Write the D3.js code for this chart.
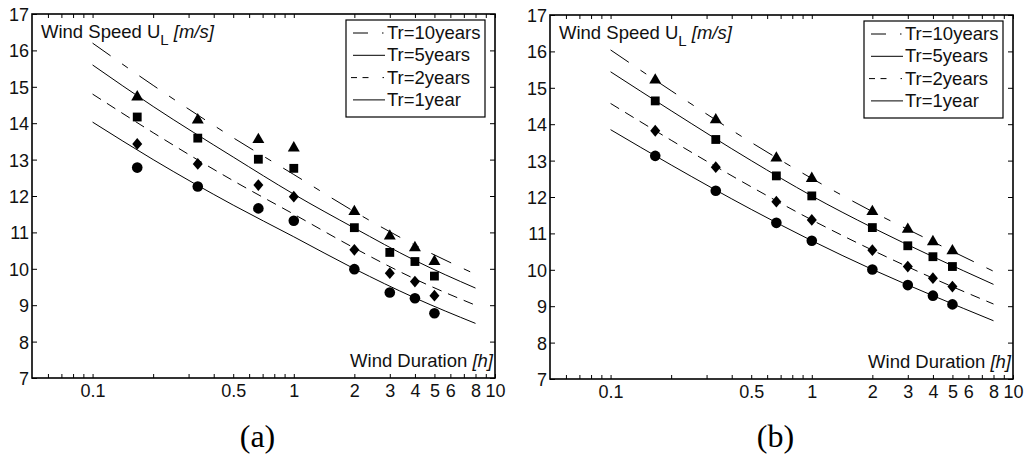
<!DOCTYPE html>
<html>
<head>
<meta charset="utf-8">
<script src="https://cdn.jsdelivr.net/npm/d3@7"></script>
<style>
  body { margin: 0; background: #fff; }
  svg { display: block; }
  text { font-family: "Liberation Sans", Arial, sans-serif; }
</style>
</head>
<body>
<div id="chart"></div>
<script>
// data
const periods = ["Tr=10years", "Tr=5years", "Tr=2years", "Tr=1year"];
const durations = [0.1667, 0.3333, 0.6667, 1, 2, 3, 4, 5];   // hours, measured points
const curveX = [0.1, 0.2, 0.5, 1, 2, 4, 8];                   // hours, fitted curves

// panel (a) measured points
const ptsA10 = [14.72, 14.09, 13.55, 13.32, 11.57, 10.9, 10.58, 10.2];
const ptsA5  = [14.17, 13.59, 13.01, 12.76, 11.13, 10.45, 10.2, 9.8];
const ptsA2  = [13.43, 12.88, 12.3, 11.98, 10.52, 9.88, 9.65, 9.26];
const ptsA1  = [12.78, 12.26, 11.66, 11.32, 9.99, 9.35, 9.19, 8.78];
// panel (a) curves
const curA10 = [16.2, 15.04, 13.6, 12.59, 11.57, 10.65, 9.85];
const curA5  = [15.6, 14.46, 13.07, 12.05, 11.12, 10.23, 9.47];
const curA2  = [14.8, 13.74, 12.42, 11.5, 10.57, 9.72, 9.0];
const curA1  = [14.03, 13.0, 11.75, 10.88, 10.0, 9.2, 8.5];

// panel (b) measured points
const ptsB10 = [15.21, 14.12, 13.07, 12.51, 11.6, 11.11, 10.77, 10.52];
const ptsB5  = [14.64, 13.58, 12.58, 12.03, 11.16, 10.66, 10.36, 10.09];
const ptsB2  = [13.82, 12.82, 11.87, 11.37, 10.54, 10.09, 9.77, 9.54];
const ptsB1  = [13.13, 12.17, 11.29, 10.8, 10.01, 9.58, 9.29, 9.05];
// panel (b) curves
const curB10 = [16.04, 14.92, 13.5, 12.51, 11.6, 10.77, 9.96];
const curB5  = [15.44, 14.37, 13.0, 12.03, 11.16, 10.36, 9.6];
const curB2  = [14.57, 13.56, 12.28, 11.37, 10.54, 9.77, 9.06];
const curB1  = [13.85, 12.88, 11.66, 10.8, 10.01, 9.29, 8.6];

const yTicks = [7, 8, 9, 10, 11, 12, 13, 14, 15, 16, 17];
const xLabels = [0.1, 0.5, 1, 2, 3, 4, 5, 6, 8, 10];
const xMinor = [0.06, 0.07, 0.08, 0.09, 0.1, 0.2, 0.3, 0.4, 0.5, 0.6, 0.7, 0.8, 0.9,
                1, 2, 3, 4, 5, 6, 7, 8, 9, 10];

const W = 1025, H = 454;
const pw = 463, ph = 364;

const svg = d3.select("#chart").append("svg")
  .attr("width", W)
  .attr("height", H);

// line styles per return period
const dashes = ["22,14,7,14", null, "10,7", null];
const legendDash = ["15,14,1.5,20", null, "6,5.5,6,14,1.5,20", null];
const legendOff = [7, 7, 5, 7];

// custom diamond, a bit taller than wide
const diamond = {
  draw(ctx, size) {
    const h = Math.sqrt(size) * 0.62, w = h * 0.85;
    ctx.moveTo(0, -h); ctx.lineTo(w, 0); ctx.lineTo(0, h); ctx.lineTo(-w, 0); ctx.closePath();
  }
};
const symbols = [
  d3.symbol(d3.symbolTriangle, 62),
  d3.symbol(d3.symbolSquare, 78),
  d3.symbol(diamond, 90),
  d3.symbol(d3.symbolCircle, 88)
];

function drawPanel(left, top, tag, pts, curves) {
  const g = svg.append("g").attr("transform", `translate(${left},${top})`);

  const x = d3.scaleLog().domain([0.05, 10]).range([0, pw]);
  const y = d3.scaleLinear().domain([7, 17]).range([ph, 0]);

  // ticks (inward, MATLAB style)
  g.append("g")
    .attr("transform", `translate(0,${ph})`)
    .call(d3.axisBottom(x).tickValues(xMinor).tickSizeInner(-4).tickSizeOuter(0).tickFormat(""))
    .call(a => a.select(".domain").remove());
  g.append("g")
    .call(d3.axisTop(x).tickValues(xMinor).tickSizeInner(-4).tickSizeOuter(0).tickFormat(""))
    .call(a => a.select(".domain").remove());
  g.append("g")
    .attr("transform", `translate(0,${ph})`)
    .call(d3.axisBottom(x).tickValues(xLabels).tickSize(0).tickPadding(6)
      .tickFormat(d => d3.format("~g")(d)))
    .call(a => a.select(".domain").remove())
    .selectAll("text").style("font-size", "18px").attr("fill", "#111");

  g.append("g")
    .call(d3.axisLeft(y).tickValues(yTicks).tickSizeInner(-5).tickSizeOuter(0).tickPadding(3))
    .call(a => a.select(".domain").remove())
    .selectAll("text").style("font-size", "18px").attr("fill", "#111").attr("dy", "0.36em");
  g.append("g")
    .attr("transform", `translate(${pw},0)`)
    .call(d3.axisRight(y).tickValues(yTicks).tickSizeInner(-5).tickSizeOuter(0).tickFormat(""))
    .call(a => a.select(".domain").remove());

  g.selectAll(".tick line").attr("stroke", "#000").attr("stroke-width", 1);

  // curves
  const line = d3.line()
    .x((d, i) => x(curveX[i]))
    .y(d => y(d))
    .curve(d3.curveMonotoneX);

  curves.forEach((c, k) => {
    g.append("path")
      .attr("d", line(c))
      .attr("fill", "none")
      .attr("stroke", "#000")
      .attr("stroke-width", 1)
      .attr("stroke-dasharray", dashes[k]);
  });

  // measured points
  pts.forEach((p, k) => {
    g.selectAll(null)
      .data(p)
      .enter()
      .append("path")
      .attr("d", symbols[k])
      .attr("transform", (d, i) => `translate(${x(durations[i])},${y(d)})`)
      .attr("fill", "#000");
  });

  // frame
  g.append("rect")
    .attr("width", pw).attr("height", ph)
    .attr("fill", "none").attr("stroke", "#000").attr("stroke-width", 1.6);

  // axis titles inside the frame
  const yt = g.append("text").attr("x", 9).attr("y", 24).style("font-size", "18.5px").attr("fill", "#111");
  yt.append("tspan").text("Wind Speed U");
  yt.append("tspan").attr("dy", 7).style("font-size", "15px").text("L");
  yt.append("tspan").attr("dy", -7).text(" ");
  yt.append("tspan").style("font-style", "italic").text("[m/s]");

  const xt = g.append("text").attr("x", pw - 2).attr("y", ph - 11)
    .attr("text-anchor", "end").style("font-size", "18.5px").attr("fill", "#111");
  xt.append("tspan").text("Wind Duration ");
  xt.append("tspan").style("font-style", "italic").text("[h]");

  // legend
  const lx = pw - 149, ly = 6;
  const leg = g.append("g");
  leg.append("rect").attr("x", lx).attr("y", ly).attr("width", 139).attr("height", 97)
    .attr("fill", "#fff").attr("stroke", "#000").attr("stroke-width", 1.2);
  periods.forEach((p, k) => {
    const by = ly + 19 + k * 22.3;
    leg.append("line")
      .attr("x1", lx + legendOff[k]).attr("x2", lx + 39)
      .attr("y1", by - 6).attr("y2", by - 6)
      .attr("stroke", "#000").attr("stroke-width", 1)
      .attr("stroke-dasharray", legendDash[k]);
    leg.append("text").attr("x", lx + 41).attr("y", by)
      .style("font-size", "18.5px").attr("fill", "#111").text(p);
  });

  // panel tag
  svg.append("text")
    .attr("x", left + pw / 2 - 6).attr("y", 447)
    .attr("text-anchor", "middle")
    .style("font-family", "'Liberation Serif', 'Times New Roman', serif")
    .style("font-size", "32px")
    .text(tag);
}

drawPanel(32, 14, "(a)", [ptsA10, ptsA5, ptsA2, ptsA1], [curA10, curA5, curA2, curA1]);
drawPanel(550, 15, "(b)", [ptsB10, ptsB5, ptsB2, ptsB1], [curB10, curB5, curB2, curB1]);
</script>
</body>
</html>
